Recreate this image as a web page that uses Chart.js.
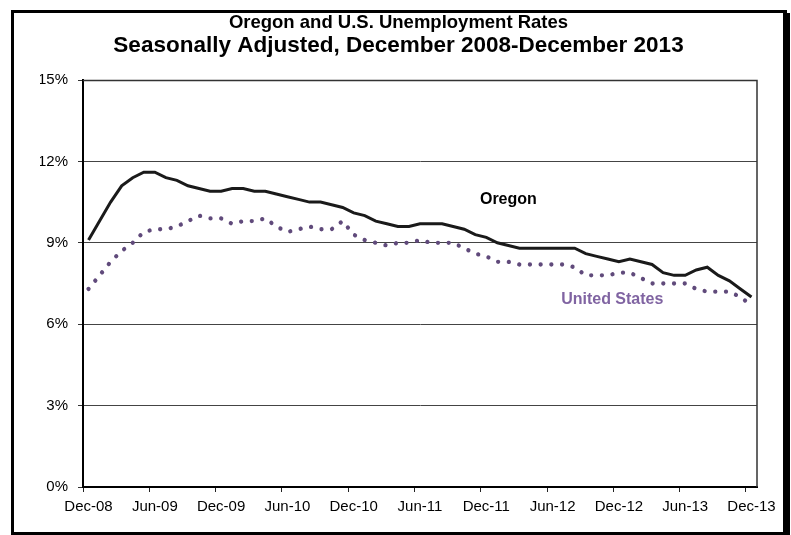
<!DOCTYPE html>
<html lang="en">
<head>
<meta charset="UTF-8">
<title>Oregon and U.S. Unemployment Rates</title>
<script src="https://cdn.jsdelivr.net/npm/chart.js"></script>
<style>
  body { margin: 0; background: #fff; }
  canvas { display: block; }
</style>
</head>
<body>
<canvas id="rateChart" width="791" height="535"></canvas>
<script>
const months = [
  'Dec-08', 'Jan-09', 'Feb-09', 'Mar-09', 'Apr-09', 'May-09', 'Jun-09', 'Jul-09', 'Aug-09', 'Sep-09', 'Oct-09', 'Nov-09',
  'Dec-09', 'Jan-10', 'Feb-10', 'Mar-10', 'Apr-10', 'May-10', 'Jun-10', 'Jul-10', 'Aug-10', 'Sep-10', 'Oct-10', 'Nov-10',
  'Dec-10', 'Jan-11', 'Feb-11', 'Mar-11', 'Apr-11', 'May-11', 'Jun-11', 'Jul-11', 'Aug-11', 'Sep-11', 'Oct-11', 'Nov-11',
  'Dec-11', 'Jan-12', 'Feb-12', 'Mar-12', 'Apr-12', 'May-12', 'Jun-12', 'Jul-12', 'Aug-12', 'Sep-12', 'Oct-12', 'Nov-12',
  'Dec-12', 'Jan-13', 'Feb-13', 'Mar-13', 'Apr-13', 'May-13', 'Jun-13', 'Jul-13', 'Aug-13', 'Sep-13', 'Oct-13', 'Nov-13',
  'Dec-13'
];
const tickLabels = ['Dec-08', 'Jun-09', 'Dec-09', 'Jun-10', 'Dec-10', 'Jun-11', 'Dec-11', 'Jun-12', 'Dec-12', 'Jun-13', 'Dec-13'];

const oregon = [
  9.1, 9.8, 10.5, 11.1, 11.4, 11.6, 11.6, 11.4, 11.3, 11.1, 11.0, 10.9,
  10.9, 11.0, 11.0, 10.9, 10.9, 10.8, 10.7, 10.6, 10.5, 10.5, 10.4, 10.3,
  10.1, 10.0, 9.8, 9.7, 9.6, 9.6, 9.7, 9.7, 9.7, 9.6, 9.5, 9.3,
  9.2, 9.0, 8.9, 8.8, 8.8, 8.8, 8.8, 8.8, 8.8, 8.6, 8.5, 8.4,
  8.3, 8.4, 8.3, 8.2, 7.9, 7.8, 7.8, 8.0, 8.1, 7.8, 7.6, 7.3,
  7.0
];
const unitedStates = [
  7.3, 7.8, 8.3, 8.7, 9.0, 9.4, 9.5, 9.5, 9.6, 9.8, 10.0, 9.9,
  9.9, 9.7, 9.8, 9.8, 9.9, 9.6, 9.4, 9.5, 9.6, 9.5, 9.5, 9.8,
  9.3, 9.1, 9.0, 8.9, 9.0, 9.0, 9.1, 9.0, 9.0, 9.0, 8.8, 8.6,
  8.5, 8.3, 8.3, 8.2, 8.2, 8.2, 8.2, 8.2, 8.1, 7.8, 7.8, 7.8,
  7.9, 7.9, 7.7, 7.5, 7.5, 7.5, 7.5, 7.3, 7.2, 7.2, 7.2, 7.0,
  6.7
];

// series names written inside the plot
const seriesLabels = [
  { text: 'Oregon', at: [38, 10.6], color: '#000000' },
  { text: 'United States', at: [47.4, 6.9], color: '#8064A2' }
];

const framePlugin = {
  id: 'frame',
  afterDraw(chart) {
    const ctx = chart.ctx;
    const a = chart.chartArea;
    ctx.save();
    // plot border on top and right
    ctx.strokeStyle = '#333';
    ctx.lineWidth = 1.5;
    ctx.beginPath();
    ctx.moveTo(a.left, a.top + 0.5);
    ctx.lineTo(a.right, a.top + 0.5);
    ctx.lineTo(a.right, a.bottom);
    ctx.stroke();
    // outer frame with shadow
    ctx.fillStyle = '#000';
    ctx.fillRect(11, 10, 3, 525);
    ctx.fillRect(11, 10, 776, 3);
    ctx.fillRect(783, 13, 7, 522);
    ctx.fillRect(11, 532, 779, 3);
    ctx.restore();
  }
};

const seriesLabelPlugin = {
  id: 'seriesLabels',
  afterDatasetsDraw(chart) {
    const ctx = chart.ctx;
    const xs = chart.scales.x, ys = chart.scales.y;
    ctx.save();
    ctx.font = 'bold 16px "Liberation Sans", Arial, sans-serif';
    ctx.textAlign = 'center';
    ctx.textBaseline = 'middle';
    seriesLabels.forEach(l => {
      ctx.fillStyle = l.color;
      ctx.fillText(l.text, xs.getPixelForValue(l.at[0]), ys.getPixelForValue(l.at[1]));
    });
    ctx.restore();
  }
};

const font = '"Liberation Sans", Arial, sans-serif';

new Chart(document.getElementById('rateChart').getContext('2d'), {
  type: 'line',
  data: {
    labels: months,
    datasets: [{
      label: 'Oregon',
      data: oregon,
      borderColor: '#1a1a1a',
      borderWidth: 3,
      pointRadius: 0,
      tension: 0,
      fill: false
    }, {
      label: 'United States',
      data: unitedStates,
      borderColor: '#604A7B',
      borderWidth: 4.3,
      borderCapStyle: 'round',
      borderDash: [0.01, 10.7],
      pointRadius: 0,
      tension: 0,
      fill: false
    }]
  },
  options: {
    responsive: false,
    animation: false,
    devicePixelRatio: 1,
    layout: { padding: { left: 40, right: 34, top: 0, bottom: 13 } },
    plugins: {
      legend: { display: false },
      tooltip: { enabled: false },
      title: {
        display: true,
        text: 'Oregon and U.S. Unemployment Rates',
        color: '#000',
        font: { family: font, size: 18.5, weight: 'bold', lineHeight: 1.0 },
        padding: { top: 13.5, bottom: 0 }
      },
      subtitle: {
        display: true,
        text: 'Seasonally Adjusted, December 2008-December 2013',
        color: '#000',
        font: { family: font, size: 22.5, weight: 'bold' },
        padding: { top: 0, bottom: 21 }
      }
    },
    scales: {
      x: {
        offset: true,
        grid: {
          offset: true,
          drawOnChartArea: false,
          drawTicks: true,
          tickLength: 5,
          tickColor: c => (c.index % 6 === 0 ? '#222' : 'rgba(0,0,0,0)')
        },
        border: { display: true, color: '#000', width: 2 },
        ticks: {
          autoSkip: false,
          maxRotation: 0,
          padding: 6,
          color: '#000',
          font: { family: font, size: 15 },
          callback: (v, i) => (tickLabels.includes(months[i]) ? months[i] : '')
        }
      },
      y: {
        min: 0,
        max: 15,
        afterFit: s => { s.width = 43; },
        grid: { color: '#444', lineWidth: 1, tickLength: 5, tickColor: '#333' },
        border: { display: true, color: '#000', width: 2 },
        ticks: {
          stepSize: 3,
          padding: 10,
          color: '#000',
          font: { family: font, size: 15 },
          callback: v => v + '%'
        }
      }
    }
  },
  plugins: [framePlugin, seriesLabelPlugin]
});
</script>
</body>
</html>
